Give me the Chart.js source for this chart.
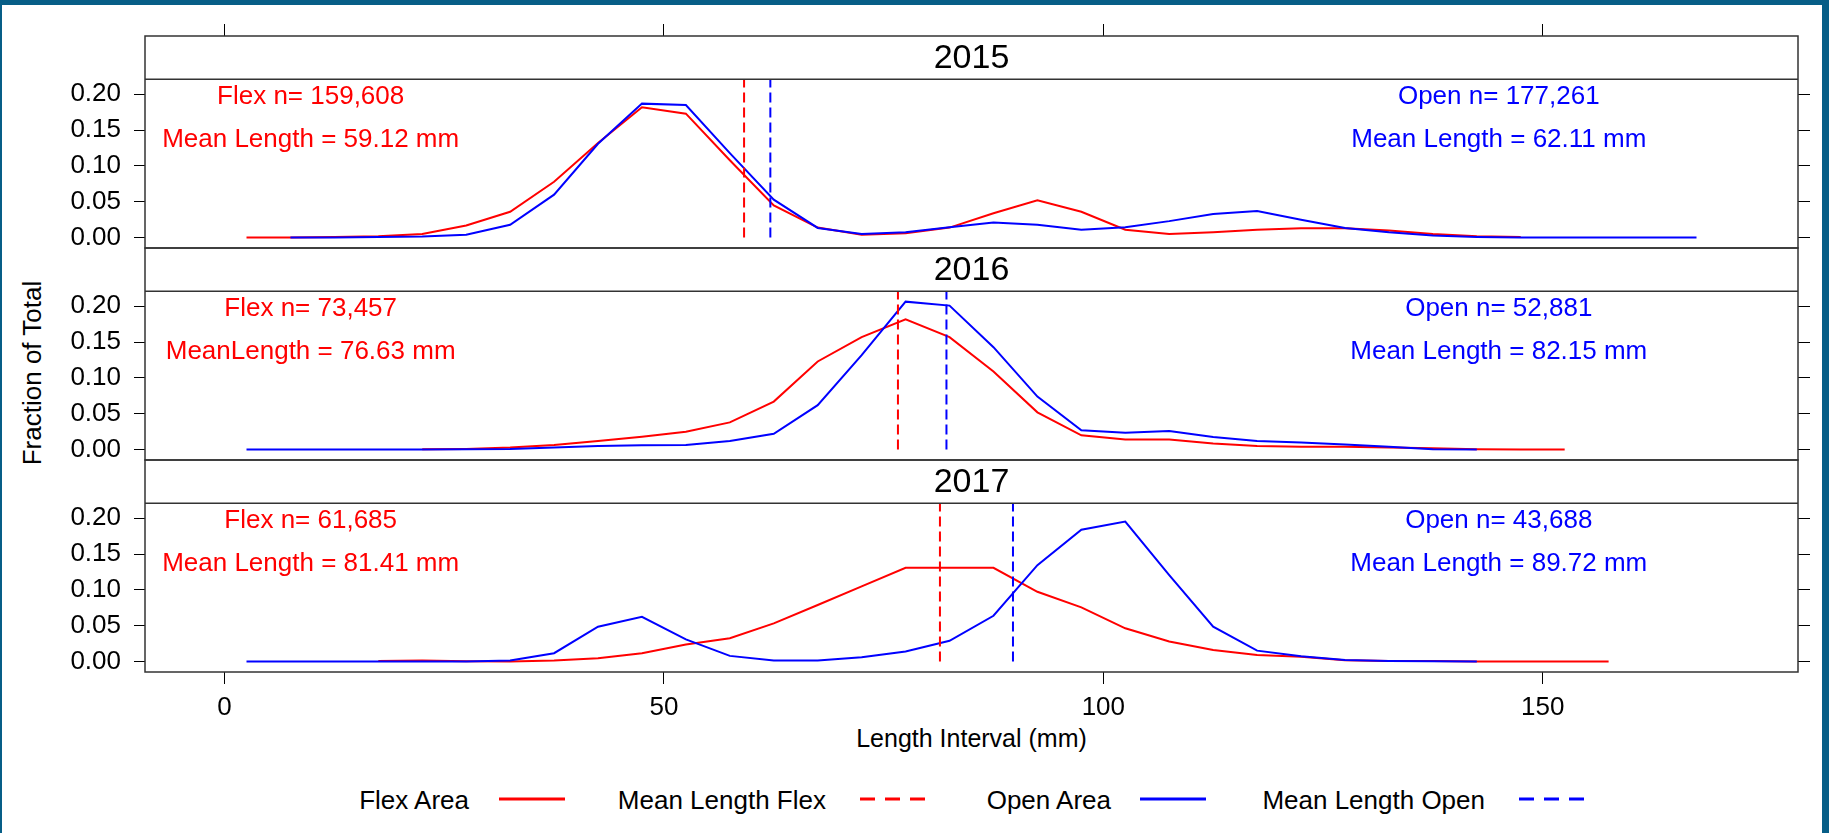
<!DOCTYPE html>
<html>
<head>
<meta charset="utf-8">
<script src="https://cdn.jsdelivr.net/npm/chart.js@4.4.1/dist/chart.umd.min.js"></script>
<style>
  html, body { margin: 0; padding: 0; background: #fff; }
  #page { position: relative; width: 1829px; height: 833px; overflow: hidden;
          font-family: "Liberation Sans", Arial, sans-serif; color: #000; }
  #page canvas { position: absolute; left: 0; top: 0; }
  .edge { position: absolute; left: 0; top: 0; width: 1829px; height: 833px; box-sizing: border-box;
          border-style: solid; border-color: #075e87; border-width: 5px 7px 0 2px; pointer-events: none; }
  .txt { position: absolute; white-space: nowrap; line-height: 30px; }
</style>
</head>
<body>
<div id="page">
  <div class="txt" id="ytitle" style="left:-118px; top:358px; width:300px; text-align:center; font-size:26px; transform:rotate(-90deg);">Fraction of Total</div>
  <div class="txt" style="left:145px; top:723px; width:1653px; text-align:center; font-size:25px;">Length Interval (mm)</div>

  <div class="txt" style="right:1360px; top:785px; font-size:26px;">Flex Area</div>
  <svg style="position:absolute; left:499px; top:797px;" width="66" height="4"><line x1="0" y1="2" x2="66" y2="2" stroke="#ff0000" stroke-width="3"/></svg>
  <div class="txt" style="right:1003px; top:785px; font-size:26px;">Mean Length Flex</div>
  <svg style="position:absolute; left:860px; top:797px;" width="66" height="4"><line x1="0" y1="2" x2="66" y2="2" stroke="#ff0000" stroke-width="3" stroke-dasharray="15 10"/></svg>
  <div class="txt" style="right:718px; top:785px; font-size:26px;">Open Area</div>
  <svg style="position:absolute; left:1140px; top:797px;" width="66" height="4"><line x1="0" y1="2" x2="66" y2="2" stroke="#0000ff" stroke-width="3"/></svg>
  <div class="txt" style="right:344px; top:785px; font-size:26px;">Mean Length Open</div>
  <svg style="position:absolute; left:1519px; top:797px;" width="66" height="4"><line x1="0" y1="2" x2="66" y2="2" stroke="#0000ff" stroke-width="3" stroke-dasharray="15 10"/></svg>

  <div class="edge"></div>
</div>
<script>
// length interval midpoints (mm)
const bins = [2.5, 7.5, 12.5, 17.5, 22.5, 27.5, 32.5, 37.5, 42.5, 47.5, 52.5, 57.5, 62.5, 67.5, 72.5, 77.5, 82.5,
              87.5, 92.5, 97.5, 102.5, 107.5, 112.5, 117.5, 122.5, 127.5, 132.5, 137.5, 142.5, 147.5, 152.5, 157.5, 162.5, 167.5];

const years = ['2015', '2016', '2017'];

// fraction of total per interval, null = no fish in that interval
const flex2015 = [0, 0, 0.001, 0.002, 0.005, 0.017, 0.036, 0.078, 0.132, 0.182, 0.173, 0.108, 0.045, 0.014, 0.004, 0.006, 0.014,
                  0.034, 0.052, 0.036, 0.011, 0.005, 0.0075, 0.011, 0.013, 0.013, 0.010, 0.005, 0.002, 0.001, null, null, null, null];
const open2015 = [null, 0, 0, 0.001, 0.0015, 0.004, 0.018, 0.060, 0.131, 0.187, 0.185, 0.118, 0.053, 0.0135, 0.005, 0.0075, 0.0145,
                  0.021, 0.018, 0.011, 0.0145, 0.023, 0.033, 0.037, 0.025, 0.0135, 0.0075, 0.003, 0.001, 0, 0, 0, 0, 0];
const flex2016 = [null, null, null, null, 0.0005, 0.001, 0.0028, 0.0064, 0.012, 0.018, 0.025, 0.038, 0.067, 0.123, 0.157, 0.182, 0.157,
                  0.109, 0.052, 0.020, 0.014, 0.014, 0.0087, 0.005, 0.004, 0.004, 0.003, 0.0018, 0.0005, 0.0003, 0, null, null, null];
const open2016 = [0, 0, 0, 0, 0, 0.0005, 0.001, 0.003, 0.005, 0.006, 0.0065, 0.012, 0.022, 0.062, 0.132, 0.2065, 0.201,
                  0.143, 0.074, 0.027, 0.0235, 0.026, 0.0175, 0.012, 0.010, 0.0073, 0.004, 0.0005, 0, null, null, null, null, null];
const flex2017 = [null, null, null, 0.001, 0.0014, 0.0005, 0, 0.0014, 0.0047, 0.0117, 0.024, 0.0326, 0.0534, 0.079, 0.105, 0.131, 0.131,
                  0.131, 0.0975, 0.0757, 0.0465, 0.028, 0.0163, 0.0093, 0.0068, 0.0018, 0.001, 0.001, 0, 0, 0, 0, null, null];
const open2017 = [0, 0, 0, 0, 0, 0, 0.0014, 0.0117, 0.0487, 0.0626, 0.031, 0.008, 0.0014, 0.0014, 0.006, 0.014, 0.029,
                  0.064, 0.1346, 0.184, 0.1954, 0.1207, 0.0487, 0.0153, 0.0075, 0.0023, 0.001, 0.0004, 0, null, null, null, null, null];

const flexMean = [59.12, 76.63, 81.41];
const openMean = [62.11, 82.15, 89.72];
const flexN = ['159,608', '73,457', '61,685'];
const openN = ['177,261', '52,881', '43,688'];
const flexMeanLabel = ['Mean Length', 'MeanLength', 'Mean Length'];

const xTicks = [0, 50, 100, 150];
const yTicks = [0, 0.05, 0.10, 0.15, 0.20];

const flexSeries = [flex2015, flex2016, flex2017];
const openSeries = [open2015, open2016, open2017];

const FONT = '"Liberation Sans", Arial, sans-serif';
const RED = '#ff0000', BLUE = '#0000ff';
const X_MIN = -9.05, X_MAX = 179.05;
const Y_MIN = -0.0145, Y_TOP = 0.221, Y_MAX = 0.2814;   // above Y_TOP is the strip
const panelTop = [36, 248, 460];
const panelBottom = [248, 460, 672];

Chart.defaults.color = '#000';

function points(vals) {
  return bins.map((x, i) => ({ x: x, y: vals[i] })).filter(p => p.y !== null);
}

const panelDecor = {
  id: 'panelDecor',
  afterDatasetsDraw(chart, args, o) {
    const { ctx, chartArea: a, scales } = chart;
    const xs = scales.x, ys = scales.y;
    ctx.save();
    ctx.strokeStyle = '#333';
    ctx.lineWidth = 1.5;
    ctx.strokeRect(a.left, a.top, a.right - a.left, a.bottom - a.top);
    const sy = ys.getPixelForValue(Y_TOP);
    ctx.beginPath();
    ctx.moveTo(a.left, sy);
    ctx.lineTo(a.right, sy);
    ctx.stroke();

    ctx.textAlign = 'center';
    ctx.textBaseline = 'middle';
    ctx.fillStyle = '#000';
    ctx.font = '34px ' + FONT;
    ctx.fillText(o.year, (a.left + a.right) / 2, (a.top + sy) / 2 + 1);

    ctx.font = '26px ' + FONT;
    ctx.fillStyle = RED;
    ctx.fillText('Flex n= ' + o.flexN, xs.getPixelForValue(9.8), ys.getPixelForValue(0.196));
    ctx.fillText(o.meanLabel + ' = ' + o.flexMean.toFixed(2) + ' mm', xs.getPixelForValue(9.8), ys.getPixelForValue(0.136));
    ctx.fillStyle = BLUE;
    ctx.fillText('Open n= ' + o.openN, xs.getPixelForValue(145), ys.getPixelForValue(0.196));
    ctx.fillText('Mean Length = ' + o.openMean.toFixed(2) + ' mm', xs.getPixelForValue(145), ys.getPixelForValue(0.136));
    ctx.restore();
  }
};

function makePanel(i) {
  const canvas = document.createElement('canvas');
  canvas.width = 1829;
  canvas.height = 833;
  document.getElementById('page').insertBefore(canvas, document.querySelector('.edge'));
  const first = i === 0, last = i === 2;
  const tickFont = { family: FONT, size: 26 };
  const tickGrid = { drawOnChartArea: false, drawTicks: true, color: '#000', lineWidth: 1 };

  new Chart(canvas, {
    type: 'line',
    data: {
      datasets: [
        { data: [{ x: flexMean[i], y: 0 }, { x: flexMean[i], y: Y_TOP }], borderColor: RED, borderWidth: 2, borderDash: [10, 5], order: 0 },
        { data: [{ x: openMean[i], y: 0 }, { x: openMean[i], y: Y_TOP }], borderColor: BLUE, borderWidth: 2, borderDash: [10, 5], order: 0 },
        { data: points(openSeries[i]), borderColor: BLUE, borderWidth: 2, order: 1 },
        { data: points(flexSeries[i]), borderColor: RED, borderWidth: 2, order: 2 }
      ]
    },
    options: {
      responsive: false,
      animation: false,
      devicePixelRatio: 1,
      events: [],
      elements: { point: { radius: 0 }, line: { tension: 0, fill: false } },
      layout: { padding: { left: 0, right: 0, top: first ? 24 : panelTop[i], bottom: last ? 833 - 672 - 60 : 833 - panelBottom[i] } },
      plugins: {
        legend: { display: false },
        tooltip: { enabled: false },
        panelDecor: { year: years[i], flexN: flexN[i], openN: openN[i], flexMean: flexMean[i], openMean: openMean[i], meanLabel: flexMeanLabel[i] }
      },
      scales: {
        x: {
          type: 'linear', axis: 'x', position: 'bottom', display: last, min: X_MIN, max: X_MAX,
          afterBuildTicks: s => { s.ticks = xTicks.map(v => ({ value: v })); },
          afterFit: s => { s.height = last ? 60 : 0; },
          ticks: { font: tickFont, padding: 8, maxRotation: 0, autoSkip: false, callback: v => String(v) },
          grid: Object.assign({ tickLength: 12 }, tickGrid),
          border: { display: false }
        },
        xTop: {
          type: 'linear', axis: 'x', position: 'top', display: first, min: X_MIN, max: X_MAX,
          afterBuildTicks: s => { s.ticks = xTicks.map(v => ({ value: v })); },
          afterFit: s => { s.height = first ? 12 : 0; },
          ticks: { display: false },
          grid: Object.assign({ tickLength: 12 }, tickGrid),
          border: { display: false }
        },
        y: {
          type: 'linear', axis: 'y', position: 'left', min: Y_MIN, max: Y_MAX,
          afterBuildTicks: s => { s.ticks = yTicks.map(v => ({ value: v })); },
          afterFit: s => { s.width = 145; },
          ticks: { font: tickFont, padding: 13, callback: v => v.toFixed(2) },
          grid: Object.assign({ tickLength: 11 }, tickGrid),
          border: { display: false }
        },
        yRight: {
          type: 'linear', axis: 'y', position: 'right', min: Y_MIN, max: Y_MAX,
          afterBuildTicks: s => { s.ticks = yTicks.map(v => ({ value: v })); },
          afterFit: s => { s.width = 31; },
          ticks: { display: false },
          grid: Object.assign({ tickLength: 12 }, tickGrid),
          border: { display: false }
        }
      }
    },
    plugins: [panelDecor]
  });
}

[0, 1, 2].forEach(makePanel);
</script>
</body>
</html>
